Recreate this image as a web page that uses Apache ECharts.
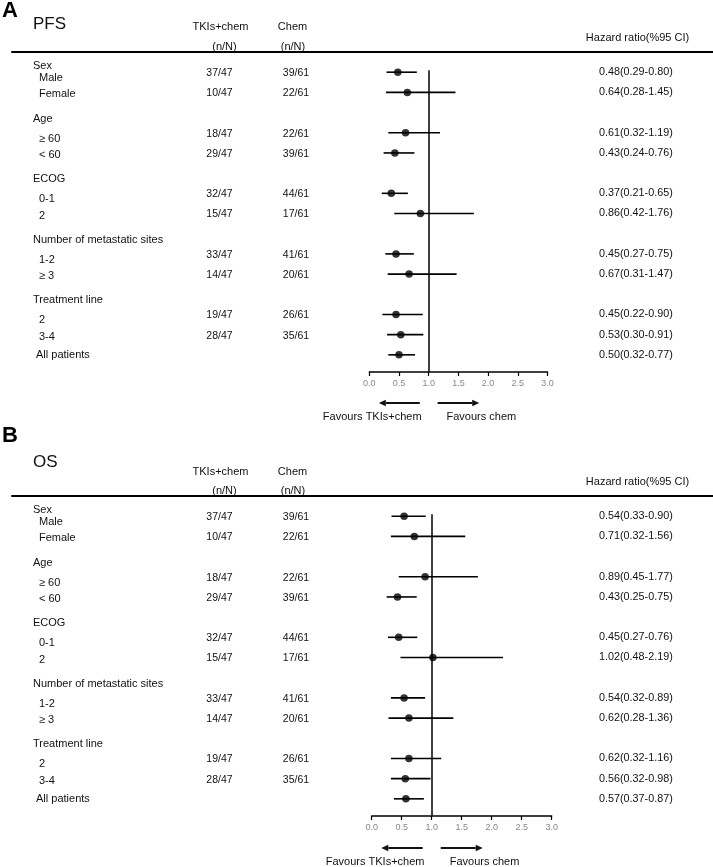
<!DOCTYPE html>
<html>
<head>
<meta charset="utf-8">
<script src="https://cdn.jsdelivr.net/npm/echarts@6/dist/echarts.min.js"></script>
<style>
html, body { margin: 0; padding: 0; background: #fff; }
#chart { width: 713px; height: 867px; }
</style>
</head>
<body>
<div id="chart"></div>
<script>
// subgroup table (same rows for both panels)
var groupNames = ['Sex', 'Age', 'ECOG', 'Number of metastatic sites', 'Treatment line'];
var subgroupNames = [['Male', 'Female'], ['\u2265 60', '< 60'], ['0-1', '2'], ['1-2', '\u2265 3'], ['2', '3-4']];
var overallName = 'All patients';
var tkiEvents = ['37/47', '10/47', '18/47', '29/47', '32/47', '15/47', '33/47', '14/47', '19/47', '28/47'];
var chemEvents = ['39/61', '22/61', '22/61', '39/61', '44/61', '17/61', '41/61', '20/61', '26/61', '35/61'];

// hazard ratios, last value = all patients
var pfsHR    = [0.48, 0.64, 0.61, 0.43, 0.37, 0.86, 0.45, 0.67, 0.45, 0.53, 0.50];
var pfsLower = [0.29, 0.28, 0.32, 0.24, 0.21, 0.42, 0.27, 0.31, 0.22, 0.30, 0.32];
var pfsUpper = [0.80, 1.45, 1.19, 0.76, 0.65, 1.76, 0.75, 1.47, 0.90, 0.91, 0.77];
var osHR     = [0.54, 0.71, 0.89, 0.43, 0.45, 1.02, 0.54, 0.62, 0.62, 0.56, 0.57];
var osLower  = [0.33, 0.32, 0.45, 0.25, 0.27, 0.48, 0.32, 0.28, 0.32, 0.32, 0.37];
var osUpper  = [0.90, 1.56, 1.77, 0.75, 0.76, 2.19, 0.89, 1.36, 1.16, 0.98, 0.87];

var FONT = '"Liberation Sans", Arial, Helvetica, sans-serif';
var INK = '#111';

// work out which row slot each line of the table sits on
var headerSlots = [], itemSlots = [], s = 0;
groupNames.forEach(function (g, gi) {
    if (gi == 0) {
        headerSlots.push(-0.6);
    } else {
        headerSlots.push(s);
        s++;
    }
    subgroupNames[gi].forEach(function () {
        itemSlots.push(s);
        s++;
    });
});
itemSlots.push(s); // all patients

var panels = [
    { letter: 'A', title: 'PFS', hr: pfsHR, lo: pfsLower, hi: pfsUpper,
      top: 52, bottom: 495, left: 369.3, right: 165.5, annTop: 398,
      letterY: 11, titleY: 24, headY: 27, nnY: 47, hrHeadY: 38 },
    { letter: 'B', title: 'OS', hr: osHR, lo: osLower, hi: osUpper,
      top: 496, bottom: 51, left: 371.7, right: 161.3, annTop: 843,
      letterY: 436, titleY: 462, headY: 472, nnY: 491, hrHeadY: 482 }
];

function fmt(v) { return v.toFixed(2); }

function textSeries(axisIdx, items) {
    return {
        type: 'custom', xAxisIndex: axisIdx, yAxisIndex: axisIdx, silent: true, z: 5,
        data: items.map(function (d) { return [d.x, d.y]; }),
        renderItem: function (params, api) {
            var d = items[params.dataIndex];
            var p = api.coord([d.x, d.y]);
            return {
                type: 'text', x: p[0], y: p[1] + (d.dy || 0),
                style: {
                    text: d.text, fill: d.color || INK, fontSize: d.size || 11, fontFamily: FONT,
                    textAlign: d.align || 'left', textVerticalAlign: 'middle'
                }
            };
        }
    };
}

var grids = [], xAxes = [], yAxes = [], series = [], graphics = [];

panels.forEach(function (p, pi) {
    var fi = pi * 3, ti = pi * 3 + 1, ai = pi * 3 + 2;

    // forest plot area
    grids.push({ left: p.left, right: p.right, top: p.top, bottom: p.bottom });
    xAxes.push({
        gridIndex: fi, type: 'value', min: 0, max: 3, interval: 0.5,
        axisLine: { onZero: false, lineStyle: { color: '#000', width: 1.5 } },
        axisTick: { length: 4, lineStyle: { color: '#000', width: 1.2 } },
        axisLabel: { color: '#888', fontSize: 9, fontFamily: FONT, margin: 7,
            formatter: function (v) { return v.toFixed(1); } },
        splitLine: { show: false }
    });
    yAxes.push({ gridIndex: fi, type: 'value', min: -1, max: 14.85, inverse: true, show: false });

    // table columns, same rows
    grids.push({ left: 12, right: 0, top: p.top, bottom: p.bottom });
    xAxes.push({
        gridIndex: ti, type: 'value', min: 12, max: 713, position: 'top',
        axisLine: { onZero: false, lineStyle: { color: '#000', width: 2 } },
        axisTick: { show: false }, axisLabel: { show: false }, splitLine: { show: false }
    });
    yAxes.push({ gridIndex: ti, type: 'value', min: -1, max: 14.85, inverse: true, show: false });

    // arrows under the axis
    grids.push({ left: p.left, right: p.right, top: p.annTop, height: 20 });
    xAxes.push({ gridIndex: ai, type: 'value', min: 0, max: 3, show: false });
    yAxes.push({ gridIndex: ai, type: 'value', min: 0, max: 20, inverse: true, show: false });

    // confidence intervals
    series.push({
        type: 'custom', xAxisIndex: fi, yAxisIndex: fi, silent: true, z: 2,
        data: p.hr.map(function (v, i) { return [p.lo[i], itemSlots[i], p.hi[i]]; }),
        renderItem: function (params, api) {
            var a = api.coord([api.value(0), api.value(1)]);
            var b = api.coord([api.value(2), api.value(1)]);
            return { type: 'line', shape: { x1: a[0], y1: a[1], x2: b[0], y2: b[1] },
                style: { stroke: '#000', lineWidth: 1.6 } };
        }
    });
    // point estimates + line of no effect
    series.push({
        type: 'scatter', xAxisIndex: fi, yAxisIndex: fi, z: 3, silent: true,
        symbol: 'circle', symbolSize: 7.5, itemStyle: { color: '#000' },
        data: p.hr.map(function (v, i) { return [v, itemSlots[i]]; }),
        markLine: {
            silent: true, symbol: 'none', animation: false, label: { show: false },
            lineStyle: { color: '#000', width: 1.5, type: 'solid' },
            data: [[{ coord: [1, -0.1] }, { coord: [1, 14.84] }]]
        }
    });

    // table text
    var items = [];
    var k = 0;
    groupNames.forEach(function (g, gi) {
        items.push({ x: 33, y: headerSlots[gi], text: g, dy: 6 });
        subgroupNames[gi].forEach(function (name, j) {
            var slot = itemSlots[k];
            items.push({ x: 39, y: slot, text: name, dy: j == 0 ? 6 : 2 });
            items.push({ x: 219.5, y: slot, text: tkiEvents[k], align: 'center', dy: 1, size: 10.5 });
            items.push({ x: 296, y: slot, text: chemEvents[k], align: 'center', dy: 1, size: 10.5 });
            k++;
        });
    });
    items.push({ x: 36, y: itemSlots[k], text: overallName, dy: 0 });
    p.hr.forEach(function (v, i) {
        items.push({ x: 599, y: itemSlots[i], size: 10.8,
            text: fmt(v) + '(' + fmt(p.lo[i]) + '-' + fmt(p.hi[i]) + ')' });
    });
    series.push(textSeries(ti, items));

    // favours arrows
    series.push({
        type: 'custom', xAxisIndex: ai, yAxisIndex: ai, silent: true,
        data: [[0.85, 0.16], [1.15, 1.85]],
        renderItem: function (params, api) {
            var a = api.coord([api.value(0), 5]);
            var b = api.coord([api.value(1), 5]);
            var dir = b[0] > a[0] ? 1 : -1, head = 7, half = 3.2;
            return { type: 'group', children: [
                { type: 'line', shape: { x1: a[0], y1: a[1], x2: b[0] - dir * head, y2: b[1] },
                  style: { stroke: INK, lineWidth: 2 } },
                { type: 'polygon', shape: { points: [[b[0], b[1]], [b[0] - dir * head, b[1] - half], [b[0] - dir * head, b[1] + half]] },
                  style: { fill: INK } }
            ] };
        }
    });
    series.push(textSeries(ai, [
        { x: 0.88, y: 19, text: 'Favours TKIs+chem', align: 'right' },
        { x: 1.3, y: 19, text: 'Favours chem', align: 'left' }
    ]));

    // panel headings
    graphics.push(
        { type: 'text', x: 2, y: p.letterY, style: { text: p.letter, fill: '#000', fontSize: 22, fontWeight: 'bold', fontFamily: FONT, textVerticalAlign: 'middle' } },
        { type: 'text', x: 33, y: p.titleY, style: { text: p.title, fill: INK, fontSize: 17, fontFamily: FONT, textVerticalAlign: 'middle' } },
        { type: 'text', x: 220.5, y: p.headY, style: { text: 'TKIs+chem', fill: INK, fontSize: 11, fontFamily: FONT, textAlign: 'center', textVerticalAlign: 'middle' } },
        { type: 'text', x: 224.5, y: p.nnY, style: { text: '(n/N)', fill: INK, fontSize: 11, fontFamily: FONT, textAlign: 'center', textVerticalAlign: 'middle' } },
        { type: 'text', x: 292.5, y: p.headY, style: { text: 'Chem', fill: INK, fontSize: 11, fontFamily: FONT, textAlign: 'center', textVerticalAlign: 'middle' } },
        { type: 'text', x: 293, y: p.nnY, style: { text: '(n/N)', fill: INK, fontSize: 11, fontFamily: FONT, textAlign: 'center', textVerticalAlign: 'middle' } },
        { type: 'text', x: 637.5, y: p.hrHeadY, style: { text: 'Hazard ratio(%95 CI)', fill: INK, fontSize: 11, fontFamily: FONT, textAlign: 'center', textVerticalAlign: 'middle' } }
    );
});

var chart = echarts.init(document.getElementById('chart'));
chart.setOption({
    animation: false,
    backgroundColor: '#fff',
    grid: grids,
    xAxis: xAxes,
    yAxis: yAxes,
    series: series,
    graphic: graphics
});
</script>
</body>
</html>
